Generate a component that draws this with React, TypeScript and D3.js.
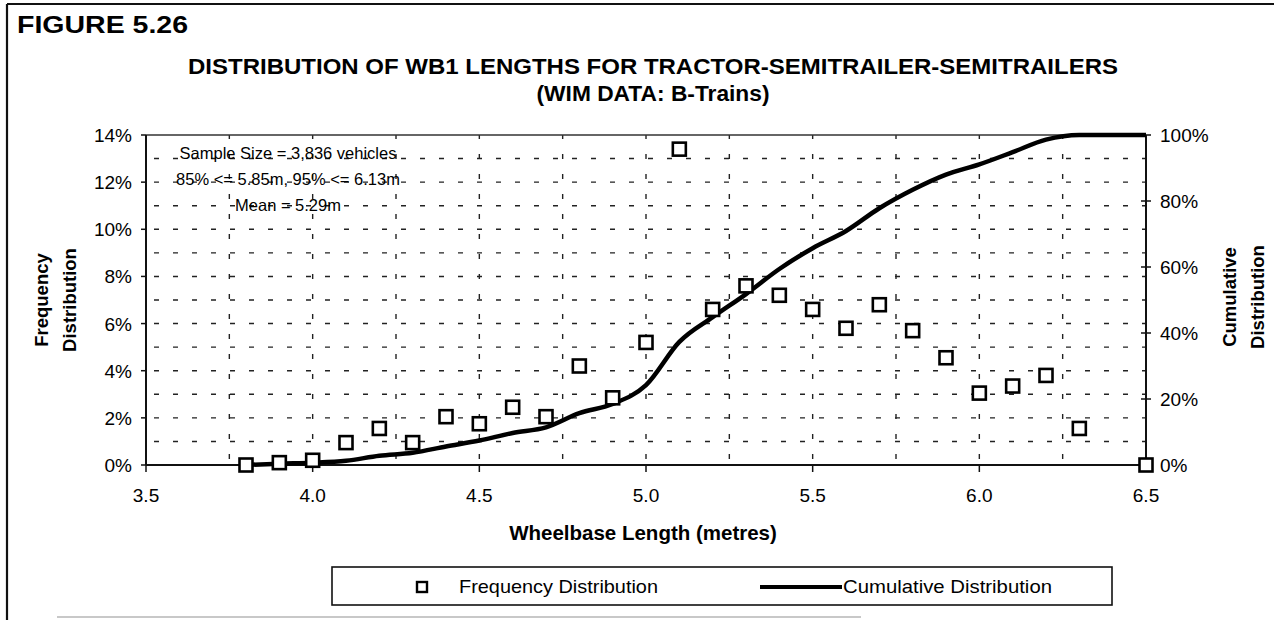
import React from "react";
import * as d3 from "d3";

// ---- data ----
const freqX = [3.8, 3.9, 4.0, 4.1, 4.2, 4.3, 4.4, 4.5, 4.6, 4.7, 4.8, 4.9, 5.0, 5.1, 5.2, 5.3, 5.4, 5.5, 5.6, 5.7, 5.8, 5.9, 6.0, 6.1, 6.2, 6.3, 6.5];
const freqY = [0, 0.1, 0.2, 0.95, 1.55, 0.95, 2.05, 1.75, 2.45, 2.05, 4.2, 2.85, 5.2, 13.4, 6.6, 7.6, 7.2, 6.6, 5.8, 6.8, 5.7, 4.55, 3.05, 3.35, 3.8, 1.55, 0];
const cumX = [3.8, 3.9, 4.0, 4.1, 4.2, 4.3, 4.4, 4.5, 4.6, 4.7, 4.8, 4.9, 5.0, 5.1, 5.2, 5.3, 5.4, 5.5, 5.6, 5.7, 5.8, 5.9, 6.0, 6.1, 6.2, 6.3, 6.4, 6.5];
const cumY = [0, 0.4, 0.7, 1.3, 2.8, 3.7, 5.6, 7.4, 9.7, 11.4, 15.7, 18.5, 24.2, 37.3, 44.8, 51.8, 59.4, 65.7, 70.9, 77.8, 83.4, 88.0, 91.1, 94.8, 98.6, 100, 100, 100];
const xTicks = [3.5, 4.0, 4.5, 5.0, 5.5, 6.0, 6.5];
const yLeftTicks = [0, 2, 4, 6, 8, 10, 12, 14];
const yRightTicks = [0, 20, 40, 60, 80, 100];
const hGrid = [1, 2, 3, 4, 5, 6, 7, 8, 9, 10, 11, 12, 13];
const vGrid = [3.75, 4.0, 4.25, 4.5, 4.75, 5.0, 5.25, 5.5, 5.75, 6.0, 6.25];
const figureLabel = "FIGURE 5.26";
const titleLines = ["DISTRIBUTION OF WB1 LENGTHS FOR TRACTOR-SEMITRAILER-SEMITRAILERS", "(WIM DATA: B-Trains)"];
const notes = ["Sample Size = 3,836 vehicles", "85% <= 5.85m, 95% <= 6.13m", "Mean = 5.29m"];
const xTitle = "Wheelbase Length (metres)";
const leftTitle = ["Frequency", "Distribution"];
const rightTitle = ["Cumulative", "Distribution"];
const legendLabels = ["Frequency Distribution", "Cumulative Distribution"];

const W = 1274, H = 620;
const L = 146, R = 1146, T = 135, B = 465;
const FONT = "Arial, 'Liberation Sans', Helvetica, sans-serif";

export default function App() {
  const x = d3.scaleLinear().domain([3.5, 6.5]).range([L, R]);
  const yL = d3.scaleLinear().domain([0, 14]).range([B, T]);
  const yR = d3.scaleLinear().domain([0, 100]).range([B, T]);
  const line = d3.line<number>()
    .x((_, i) => x(cumX[i]))
    .y((d) => yR(d))
    .curve(d3.curveMonotoneX);
  const sq = 13;
  return (
    <div style={{ position: "absolute", left: 0, top: 0 }}>
      <svg width={W} height={H} style={{ display: "block", background: "#fff" }} fontFamily={FONT}>
        {/* frame */}
        <line x1={7} y1={4} x2={W} y2={4} stroke="#111" strokeWidth={2} />
        <line x1={7} y1={4} x2={7} y2={H} stroke="#111" strokeWidth={2.2} />
        <line x1={57} y1={617} x2={861} y2={617} stroke="#c8c8c8" strokeWidth={2} />
        <text x={17} y={33} fontSize={24} fontWeight="bold" textLength={171} lengthAdjust="spacingAndGlyphs">{figureLabel}</text>
        {/* titles */}
        <text x={653} y={74} fontSize={22} fontWeight="bold" textAnchor="middle" textLength={930} lengthAdjust="spacingAndGlyphs">{titleLines[0]}</text>
        <text x={653} y={101} fontSize={22} fontWeight="bold" textAnchor="middle" textLength={233} lengthAdjust="spacingAndGlyphs">{titleLines[1]}</text>
        {/* grid */}
        {hGrid.map((g) => (
          <line key={"h" + g} x1={L} x2={R} y1={yL(g)} y2={yL(g)} stroke="#222" strokeWidth={1.4} strokeDasharray="5 14" strokeDashoffset={-8} />
        ))}
        {vGrid.map((g) => (
          <line key={"v" + g} x1={x(g)} x2={x(g)} y1={B} y2={T} stroke="#222" strokeWidth={1.4} strokeDasharray="5 15" strokeDashoffset={-6} />
        ))}
        {/* plot border / axes */}
        <line x1={L} x2={R} y1={T} y2={T} stroke="#333" strokeWidth={1.5} />
        <line x1={L} x2={R} y1={B} y2={B} stroke="#111" strokeWidth={2} />
        <line x1={L} x2={L} y1={T} y2={B} stroke="#111" strokeWidth={2} />
        <line x1={R} x2={R} y1={T} y2={B} stroke="#111" strokeWidth={2} />
        {xTicks.map((t) => (
          <g key={"xt" + t}>
            <line x1={x(t)} x2={x(t)} y1={B} y2={B + 7} stroke="#111" strokeWidth={1.5} />
            <text x={x(t)} y={502} fontSize={19} textAnchor="middle">{d3.format(".1f")(t)}</text>
          </g>
        ))}
        {yLeftTicks.map((t) => (
          <g key={"yl" + t}>
            <line x1={L - 5} x2={L} y1={yL(t)} y2={yL(t)} stroke="#111" strokeWidth={1.5} />
            <text x={132} y={yL(t) + 7} fontSize={19} textAnchor="end">{t + "%"}</text>
          </g>
        ))}
        {yRightTicks.map((t) => (
          <g key={"yr" + t}>
            <line x1={R - 5} x2={R + 5} y1={yR(t)} y2={yR(t)} stroke="#111" strokeWidth={1.5} />
            <text x={1160} y={yR(t) + 7} fontSize={19} textAnchor="start">{t + "%"}</text>
          </g>
        ))}
        {/* axis titles */}
        <text x={643} y={540} fontSize={20.5} fontWeight="bold" textAnchor="middle">{xTitle}</text>
        <g transform="translate(48,300) rotate(-90)">
          <text x={0} y={0} fontSize={18.5} fontWeight="bold" textAnchor="middle">{leftTitle[0]}</text>
          <text x={0} y={28} fontSize={18.5} fontWeight="bold" textAnchor="middle">{leftTitle[1]}</text>
        </g>
        <g transform="translate(1236,297) rotate(-90)">
          <text x={0} y={0} fontSize={18.5} fontWeight="bold" textAnchor="middle">{rightTitle[0]}</text>
          <text x={0} y={28} fontSize={18.5} fontWeight="bold" textAnchor="middle">{rightTitle[1]}</text>
        </g>
        {/* notes */}
        {notes.map((n, i) => (
          <text key={n} x={288} y={159 + i * 26} fontSize={16.5} textAnchor="middle">{n}</text>
        ))}
        {/* cumulative */}
        <path d={line(cumY) || ""} fill="none" stroke="#000" strokeWidth={4.5} strokeLinejoin="round" />
        {/* frequency markers */}
        {freqY.map((v, i) => (
          <rect key={"f" + i} x={x(freqX[i]) - sq / 2} y={yL(v) - sq / 2} width={sq} height={sq} fill="#fff" stroke="#000" strokeWidth={2.6} />
        ))}
        {/* legend */}
        <rect x={332} y={567} width={780} height={38} fill="#fff" stroke="#111" strokeWidth={1.6} />
        <rect x={422 - 5} y={587 - 5} width={10} height={10} fill="#fff" stroke="#000" strokeWidth={2.4} />
        <text x={459} y={593} fontSize={19} textLength={199} lengthAdjust="spacingAndGlyphs">{legendLabels[0]}</text>
        <line x1={760} x2={842} y1={587} y2={587} stroke="#000" strokeWidth={4} />
        <text x={843} y={593} fontSize={19} textLength={209} lengthAdjust="spacingAndGlyphs">{legendLabels[1]}</text>
      </svg>
    </div>
  );
}
